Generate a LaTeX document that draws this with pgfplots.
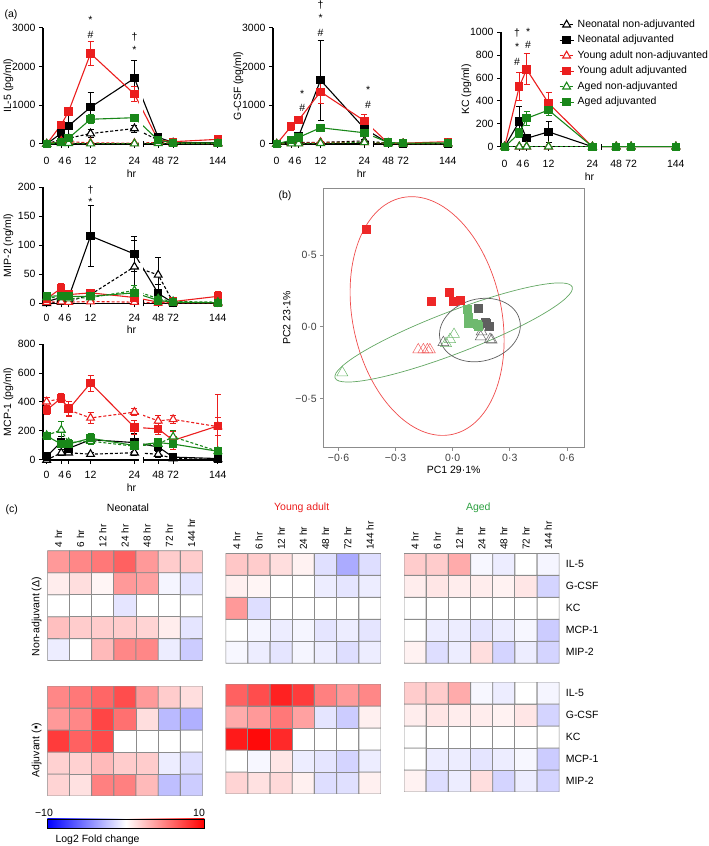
\documentclass[border=0pt]{standalone}
\usepackage{fontspec}
\setmainfont{Liberation Sans}
\usepackage{pgfplots}
\usepackage{pgfplotstable}
\pgfplotsset{compat=1.18}
\definecolor{cR}{RGB}{235,30,30}
\definecolor{cG}{RGB}{25,135,25}
\definecolor{pR}{RGB}{238,40,40}
\definecolor{pG}{RGB}{110,185,110}
\definecolor{pK}{RGB}{95,95,95}
\definecolor{tG}{RGB}{45,160,65}
\newcommand{\fs}{\fontsize{10.5}{12}\selectfont}

\pgfplotsset{
  lineax/.style={
    scale only axis, width=177pt, anchor=south west,
    axis lines=left, axis line style={-, line width=1.1pt},
    xmin=-1, xmax=47.4, ymin=0,
    xtick={0,4,6,12,24,30.5,34.6,46.8},
    xticklabels={0,4,6,12,24,48,72,144},
    tick align=outside, major tick length=4pt,
    every tick/.style={line width=1pt, black},
    clip=false,
    /pgf/number format/assume math mode=true,
    /pgf/number format/1000 sep={},
    scaled y ticks=false,
    tick label style={font=\fs},
    label style={font=\fs},
    xlabel={hr},
    xlabel style={yshift=2pt},
    ylabel style={at={(axis description cs:-0.195,0.5)}, anchor=center},
    x filter/.expression={x<25 ? x : 30.5+(x-48)*0.17},
  },
  ebar/.style={error bars/y dir=both, error bars/y explicit,
    error bars/error bar style={solid, line width=1pt},
    error bars/error mark options={solid, rotate=90, mark size=3pt, line width=1pt}},
  sNNA/.style={black, line width=1.1pt, dash pattern=on 3pt off 2pt, mark=triangle*, mark size=4.5pt, mark options={solid, fill=white, line width=1.1pt}, ebar},
  sNA/.style={black, line width=1.1pt, mark=square*, mark size=3.6pt, mark options={solid}, ebar},
  sYNA/.style={cR, line width=1.1pt, dash pattern=on 3pt off 2pt, mark=triangle*, mark size=4.5pt, mark options={solid, fill=white, line width=1.1pt}, ebar},
  sYA/.style={cR, line width=1.1pt, mark=square*, mark size=3.6pt, mark options={solid}, ebar},
  sANA/.style={cG, line width=1.1pt, dash pattern=on 3pt off 2pt, mark=triangle*, mark size=4.5pt, mark options={solid, fill=white, line width=1.1pt}, ebar},
  sAA/.style={cG, line width=1.1pt, mark=square*, mark size=3.6pt, mark options={solid}, ebar},
  hm/.style={scale only axis, width=155.3pt, height=110pt, anchor=south west,
    xmin=-0.5, xmax=6.5, ymin=-0.5, ymax=4.5,
    axis line style={draw=none}, major tick length=0pt,
    xtick=\empty, ytick=\empty,
    colormap={bwr}{rgb255=(0,0,255) rgb255=(255,255,255) rgb255=(255,0,0)},
    point meta min=-10, point meta max=10,
  },
  hmtop/.style={xtick={0,...,6}, xticklabels={4 hr,6 hr,12 hr,24 hr,48 hr,72 hr,144 hr},
    xticklabel pos=upper, xticklabel style={rotate=90, anchor=west, font=\fontsize{10}{12}\selectfont}},
  hmright/.style={ytick={0,...,4}, yticklabels={MIP-2,MCP-1,KC,G-CSF,IL-5},
    yticklabel pos=right, yticklabel style={anchor=west, font=\fs, xshift=3pt}},
  hmplot/.style={matrix plot*, shader=faceted, faceted color=black!45, line width=0.9pt, mesh/cols=7, point meta=explicit},
}

% ---------- panel (a) data: t, value, error for six series ----------
\pgfplotstableread{
t   nna enna na  ena  yna eyna ya   eya ana eana aa  eaa
0   0   0    0   0    0   0    0    0   0   0    0   0
4   120 40   280 120  80  30   500  60  20  10   60  30
6   150 50   470 260  60  20   840  80  20  10   150 50
12  270 110  950 390  30  20   2340 300 10  10   640 110
24  400 90   1700 460 20  10   1290 190 10  5    680 60
48  100 30   170 50   40  20   100  30  20  10   100 30
72  30  10   40  20   20  10   60   20  10  5    30  10
144 20  10   30  10   10  5    120  40  10  5    30  10
}\tILfive
\pgfplotstableread{
t   nna enna na  ena  yna eyna ya   eya ana eana aa  eaa
0   0   0    0   0    0   0    0    0   0   0    0   0
4   30  10   70  30   20  10   460  100 10  5    100 30
6   40  10   200 100  20  10   620  60  10  5    170 40
12  40  20   1650 1030 40 20   1350 300 20  10   420 40
24  80  30   400 100  40  20   600  150 40  20   290 40
48  20  10   20  10   20  10   20   10  20  10   40  10
72  10  5    10  5    10  5    20   10  10  5    20  10
144 10  5    10  5    10  5    60   20  10  5    30  10
}\tGCSF
\pgfplotstableread{
t   nna enna na  ena  yna eyna ya   eya ana eana aa  eaa
0   0   0    0   0    0   0    0    0   0   0    0   0
4   0   0    220 130  0   0    525  120 0   0    117 40
6   0   0    73  30   0   0    676  135 0   0    248 60
12  0   0    130 90   0   0    380  90  0   0    320 50
24  0   0    0   0    0   0    0    0   0   0    0   0
48  0   0    0   0    0   0    0    0   0   0    0   0
72  0   0    0   0    0   0    0    0   0   0    0   0
144 0   0    0   0    0   0    0    0   0   0    0   0
}\tKC
\pgfplotstableread{
t   nna enna na  ena  yna eyna ya   eya ana eana aa  eaa
0   0   0    3   2    2   1    8    3   10  3    12  3
4   2   1    10  5    3   1    26   8   10  3    13  3
6   3   1    10  4    2   1    15   4   8   3    12  3
12  15  5    116 52   3   1    18   6   10  3    12  4
24  63  45   85  30   2   1    10   5   22  8    18  6
48  49  30   17  15   1   1    2    1   8   3    5   2
72  2   1    1   1    1   1    3    1   3   1    2   1
144 0   0    0   0    1   1    12   8   2   1    1   1
}\tMIP
\pgfplotstableread{
t   nna enna na  ena  yna eyna ya   eya ana eana aa  eaa
0   0   0    25  10   402 30   345  30  170 20   165 20
4   50  20   124 40   425 30   427  30  207 60   110 20
6   50  10   80  20   345 40   350  50  120 20   110 20
12  40  10   140 30   290 40   530  55  130 20   150 30
24  50  20   120 60   330 25   225  50  95  20   100 20
48  40  20   90  20   270 35   215  40  110 20   120 20
72  10  5    20  10   280 30   135  60  160 40   110 20
144 5   3    10  5    230 60   235  220 60  20   60  20
}\tMCP

% ---------- panel (c) heat-map data: column c (4..144 hr), row r (0 MIP-2 ... 4 IL-5), value v ----------
\pgfplotstableread[row sep=\\]{c r v\\
0 0 -0.7\\1 0 0\\2 0 2.7\\3 0 4.7\\4 0 4.7\\5 0 -0.7\\6 0 -2\\
0 1 2.5\\1 1 2\\2 1 2\\3 1 2\\4 1 1.7\\5 1 0.7\\6 1 -1\\
0 2 0\\1 2 0\\2 2 0\\3 2 -1\\4 2 0\\5 2 0\\6 2 0\\
0 3 0.7\\1 3 1.3\\2 3 0.4\\3 3 4\\4 3 3.7\\5 3 -0.4\\6 3 -1\\
0 4 4\\1 4 4.7\\2 4 5.3\\3 4 6.2\\4 4 4\\5 4 2\\6 4 2\\
}\hNNA
\pgfplotstableread[row sep=\\]{c r v\\
0 0 1.7\\1 0 1.2\\2 0 5\\3 0 5\\4 0 2.7\\5 0 -2.5\\6 0 -2\\
0 1 1.8\\1 1 1.8\\2 1 2.7\\3 1 2\\4 1 2\\5 1 -0.7\\6 1 -1.3\\
0 2 7.7\\1 2 6.2\\2 2 7.1\\3 2 0\\4 2 0\\5 2 0\\6 2 0\\
0 3 4\\1 3 4.7\\2 3 7.3\\3 3 5.6\\4 3 1.3\\5 3 -2.7\\6 3 -3.1\\
0 4 4.7\\1 4 5.3\\2 4 6\\3 4 7\\4 4 4\\5 4 2\\6 4 1.3\\
}\hNA
\pgfplotstableread[row sep=\\]{c r v\\
0 0 -0.3\\1 0 -0.7\\2 0 -1\\3 0 -0.4\\4 0 -0.7\\5 0 -1.3\\6 0 -0.7\\
0 1 0\\1 1 -0.4\\2 1 -0.7\\3 1 -0.4\\4 1 -1\\5 1 -0.7\\6 1 -1\\
0 2 4\\1 2 -1.3\\2 2 0\\3 2 0\\4 2 0\\5 2 0\\6 2 0\\
0 3 0.6\\1 3 0.4\\2 3 0\\3 3 0\\4 3 -0.7\\5 3 -1\\6 3 -0.7\\
0 4 2.2\\1 4 2\\2 4 1.3\\3 4 0.5\\4 4 -1.2\\5 4 -3.3\\6 4 -1.3\\
}\hYNA
\pgfplotstableread[row sep=\\]{c r v\\
0 0 1.7\\1 0 1.2\\2 0 1.5\\3 0 0.6\\4 0 -1.3\\5 0 -1.2\\6 0 0.6\\
0 1 0\\1 1 -0.3\\2 1 1\\3 1 -0.7\\4 1 -1\\5 1 -1.7\\6 1 -0.7\\
0 2 9\\1 2 9.6\\2 2 8.4\\3 2 0\\4 2 0\\5 2 0\\6 2 0\\
0 3 3.3\\1 3 4\\2 3 5.3\\3 3 3.7\\4 3 -1\\5 3 -2\\6 3 0.6\\
0 4 6.2\\1 4 7\\2 4 8.7\\3 4 7.7\\4 4 5\\5 4 4\\6 4 4.7\\
}\hYA
\pgfplotstableread[row sep=\\]{c r v\\
0 0 0.5\\1 0 -1.3\\2 0 -0.7\\3 0 1.3\\4 0 -1.7\\5 0 -0.7\\6 0 -1.7\\
0 1 0\\1 1 -0.7\\2 1 -0.7\\3 1 -1\\4 1 -0.7\\5 1 -0.3\\6 1 -2\\
0 2 0\\1 2 0\\2 2 0\\3 2 0\\4 2 0\\5 2 0\\6 2 0\\
0 3 0.7\\1 3 1\\2 3 0.7\\3 3 0.7\\4 3 0.5\\5 3 1\\6 3 -1.7\\
0 4 2\\1 4 2\\2 4 3.3\\3 4 -0.3\\4 4 -0.7\\5 4 0\\6 4 -0.4\\
}\hANA
\pgfplotstableread[row sep=\\]{c r v\\
0 0 0.5\\1 0 -1.3\\2 0 -0.7\\3 0 1.3\\4 0 -1.7\\5 0 -0.7\\6 0 -1.7\\
0 1 0\\1 1 -0.7\\2 1 -0.7\\3 1 -1\\4 1 -0.7\\5 1 -0.3\\6 1 -2\\
0 2 0\\1 2 0\\2 2 0\\3 2 0\\4 2 0\\5 2 0\\6 2 0\\
0 3 0.7\\1 3 1\\2 3 0.7\\3 3 0.7\\4 3 0.5\\5 3 1\\6 3 -1.7\\
0 4 2\\1 4 2\\2 4 3.3\\3 4 -0.3\\4 4 -0.7\\5 4 0\\6 4 -0.4\\
}\hAA

\newcommand{\sixplots}[1]{%
  \addplot[sNNA] table[x=t, y=nna, y error=enna] {#1};
  \addplot[sNA]  table[x=t, y=na,  y error=ena]  {#1};
  \addplot[sYNA] table[x=t, y=yna, y error=eyna] {#1};
  \addplot[sYA]  table[x=t, y=ya,  y error=eya]  {#1};
  \addplot[sANA] table[x=t, y=ana, y error=eana] {#1};
  \addplot[sAA]  table[x=t, y=aa,  y error=eaa]  {#1};
}
\newcommand{\brk}[1]{%
  \fill[white] ([yshift=-3pt]axis cs:25.2,0) rectangle (axis cs:26.3,#1);
  \draw[line width=1.1pt] ([yshift=-3pt]axis cs:26.5,0) -- ([yshift=3pt]axis cs:26.5,0);
}

\begin{document}
\begin{tikzpicture}[font=\fs]
\path[use as bounding box] (0,0) rectangle (709pt,846pt);

% ---------------- IL-5 ----------------
\begin{axis}[lineax, at={(43pt,702pt)}, height=116pt, ymax=3000,
  xticklabel style={yshift=-6pt},
  ytick={0,1000,2000,3000}, ylabel={IL-5 (pg/ml)}]
\sixplots{\tILfive}
\brk{1500}
\node at (axis cs:12,3207) {*};
\node at (axis cs:12,2819) {\#};
\node at (axis cs:24,2767) {†};
\node at (axis cs:24,2431) {*};
\end{axis}

% ---------------- G-CSF ----------------
\begin{axis}[lineax, at={(273pt,702pt)}, height=116pt, ymax=3000,
  xticklabel style={yshift=-6pt},
  ytick={0,1000,2000,3000}, ylabel={G-CSF (pg/ml)}]
\sixplots{\tGCSF}
\brk{800}
\node at (axis cs:12,3595) {†};
\node at (axis cs:12,3250) {*};
\node at (axis cs:12,2862) {\#};
\node at (axis cs:7,1285) {*};
\node at (axis cs:7,923) {\#};
\node at (axis cs:25,1397) {*};
\node at (axis cs:25,1009) {\#};
\end{axis}

% ---------------- KC ----------------
\begin{axis}[lineax, at={(501pt,699.3pt)}, height=114.4pt, ymax=1000,
  xticklabel style={yshift=-6pt},
  ytick={0,200,400,600,800,1000}, ylabel={KC (pg/ml)},
  legend style={at={(axis description cs:0.31,1.14)}, anchor=north west, draw=none, fill=none,
    font=\fs, row sep=3pt, nodes={text height=8pt, text depth=2.5pt, inner ysep=1pt, inner xsep=3.5pt}},
  legend cell align=left,
  legend image code/.code={\draw[mark repeat=2, mark phase=2, #1] plot coordinates {(0pt,0pt) (7pt,0pt) (14pt,0pt)};}]
\sixplots{\tKC}
\brk{100}
\legend{Neonatal non-adjuvanted, Neonatal adjuvanted, Young adult non-adjuvanted, Young adult adjuvanted, Aged non-adjuvanted, Aged adjuvanted}
\node at (axis cs:3.4,991) {†};
\node at (axis cs:3.4,874) {*};
\node at (axis cs:3.4,743) {\#};
\node at (axis cs:6.4,1005) {*};
\node at (axis cs:6.4,889) {\#};
\end{axis}

% ---------------- MIP-2 ----------------
\begin{axis}[lineax, at={(43pt,542.7pt)}, height=116pt, ymax=200,
  xticklabel style={yshift=-3pt},
  ytick={0,50,100,150,200}, ylabel={MIP-2 (ng/ml)}]
\sixplots{\tMIP}
\brk{70}
\node at (axis cs:12,195) {†};
\node at (axis cs:12,175) {*};
\end{axis}

% ---------------- MCP-1 ----------------
\begin{axis}[lineax, at={(43pt,386pt)}, height=116pt, ymax=800,
  xticklabel style={yshift=-4pt},
  ytick={0,200,400,600,800}, ylabel={MCP-1 (pg/ml)}]
\sixplots{\tMCP}
\brk{350}
\end{axis}

% ---------------- PCA (b) ----------------
\begin{axis}[scale only axis, anchor=south west, at={(323.3pt,398.3pt)}, width=260.7pt, height=259.4pt,
  xmin=-0.68, xmax=0.69, ymin=-0.844, ymax=0.966,
  axis line style={black!45, line width=0.7pt},
  tick pos=left, tick align=outside, major tick length=3pt,
  every tick/.style={black!45, line width=0.7pt},
  xtick={-0.6,-0.3,0,0.3,0.6}, xticklabels={−0·6,−0·3,0·0,0·3,0·6},
  ytick={-0.5,0,0.5}, yticklabels={−0·5,0·0,0·5},
  tick label style={font=\fs, text=black!75},
  xlabel={PC1 29·1\%}, ylabel={PC2 23·1\%}, label style={font=\fs},
  xlabel style={yshift=2pt}, ylabel style={yshift=-2pt}]
\draw[cR!80, line width=0.7pt] (axis cs:-0.1345,0.0747) ellipse [x radius=74.4pt, y radius=121pt, rotate=12];
\draw[pG!90!black, line width=0.7pt] (axis cs:0.005,-0.040) ellipse [x radius=127pt, y radius=21pt, rotate=21];
\draw[pK, line width=0.7pt] (axis cs:0.143,-0.023) ellipse [x radius=41pt, y radius=31pt, rotate=15];
\addplot[only marks, mark=triangle, mark size=6.3pt, cR!70, line width=0.5pt] coordinates {(-0.181,-0.16) (-0.154,-0.16) (-0.133,-0.16) (-0.12,-0.16)};
\addplot[only marks, mark=triangle, mark size=6.3pt, pG, line width=0.5pt] coordinates {(-0.58,-0.32) (-0.014,-0.088) (0.007,-0.053) (-0.035,-0.116)};
\addplot[only marks, mark=triangle, mark size=6.3pt, pK, line width=0.5pt] coordinates {(-0.049,-0.11) (0.152,-0.035) (0.147,-0.07) (0.205,-0.093) (0.196,-0.088)};
\addplot[only marks, mark=square*, mark size=4pt, pR] coordinates {(-0.456,0.68) (-0.114,0.179) (-0.019,0.24) (0.0,0.175) (0.038,0.186)};
\addplot[only marks, mark=square*, mark size=4pt, pK] coordinates {(0.135,0.128) (0.17,0.035) (0.175,0.028) (0.193,0.007)};
\addplot[only marks, mark=square*, mark size=4pt, pG] coordinates {(0.077,0.121) (0.084,0.07) (0.08,0.023) (0.108,0.023) (0.129,0.019) (0.135,0.005)};
\end{axis}

% ---------------- heat maps (c) ----------------
\begin{axis}[hm, hmtop, at={(47.3pt,185.3pt)}]
\addplot[hmplot] table[x=c, y=r, meta=v] {\hNNA};
\end{axis}
\begin{axis}[hm, at={(47.3pt,50pt)}]
\addplot[hmplot] table[x=c, y=r, meta=v] {\hNA};
\end{axis}
\begin{axis}[hm, hmtop, at={(225.7pt,182.7pt)}]
\addplot[hmplot] table[x=c, y=r, meta=v] {\hYNA};
\end{axis}
\begin{axis}[hm, at={(225.7pt,52pt)}]
\addplot[hmplot] table[x=c, y=r, meta=v] {\hYA};
\end{axis}
\begin{axis}[hm, hmtop, hmright, at={(404pt,182.7pt)}]
\addplot[hmplot] table[x=c, y=r, meta=v] {\hANA};
\end{axis}
\begin{axis}[hm, hmright, at={(404pt,54pt)}]
\addplot[hmplot] table[x=c, y=r, meta=v] {\hAA};
\end{axis}

% ---------------- texts ----------------
\node[anchor=west] at (1pt,831pt) {(a)};
\node at (285pt,650pt) {(b)};
\node[anchor=west] at (2pt,336pt) {(c)};
\node at (128pt,338pt) {Neonatal};
\node[text=cR] at (301.7pt,338pt) {Young adult};
\node[text=tG] at (478.3pt,338pt) {Aged};
\node[rotate=90] at (36.7pt,229.3pt) {Non-adjuvant (Δ)};
\node[rotate=90] at (36.7pt,96pt) {Adjuvant (▪)};
\shade[left color=blue, right color=red, middle color=white] (47.3pt,17.7pt) rectangle (204.3pt,27pt);
\draw[line width=0.8pt] (47.3pt,17.7pt) rectangle (204.3pt,27pt);
\node at (44pt,33.5pt) {−10};
\node at (199pt,33.5pt) {10};
\node[anchor=west] at (52pt,6pt) {Log2 Fold change};
\end{tikzpicture}
\end{document}
